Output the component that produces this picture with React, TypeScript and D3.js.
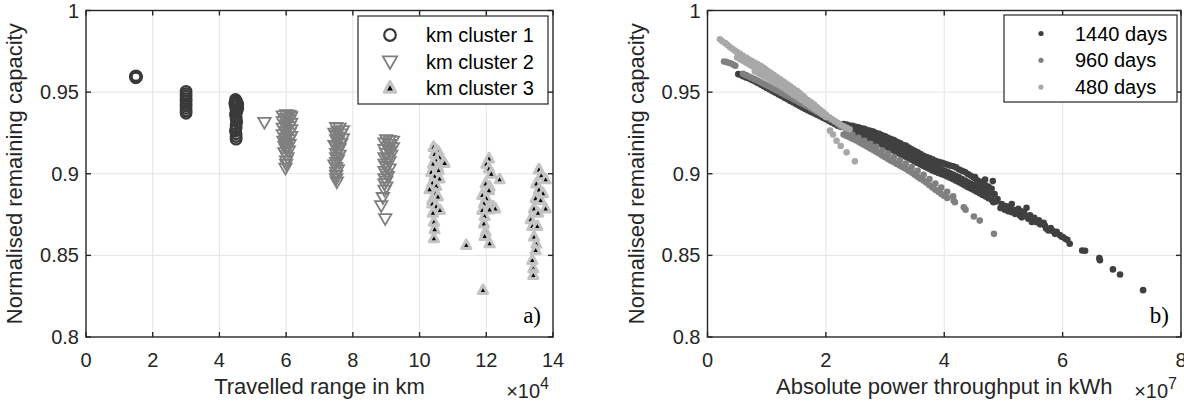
import React from "react";
import * as d3 from "d3";

// a) travelled range (x in 1e4 km) vs normalised remaining capacity
const kmCluster1: [number, number][] = [
  [1.5, 0.96], [1.48, 0.9597], [1.52, 0.9594], [1.5, 0.9591], [1.49, 0.9588],
  [3.0, 0.9505], [3.0, 0.949], [3.0, 0.9475], [3.0, 0.946], [3.0, 0.9445], [3.0, 0.943],
  [3.0, 0.9415], [3.0, 0.94], [3.0, 0.9385], [3.0, 0.937],
  [4.48, 0.9455], [4.5, 0.9448], [4.52, 0.944], [4.46, 0.9432], [4.55, 0.9425], [4.5, 0.9418],
  [4.48, 0.941], [4.55, 0.94], [4.5, 0.939], [4.52, 0.9378], [4.48, 0.9365], [4.5, 0.935],
  [4.5, 0.9335], [4.52, 0.9318], [4.5, 0.93], [4.5, 0.928], [4.48, 0.9262], [4.5, 0.9245],
  [4.5, 0.9228], [4.5, 0.9212],
];

const kmCluster2: [number, number][] = [
  [5.35, 0.9315],
  [6.0, 0.9362], [6.1, 0.936], [5.9, 0.9355], [6.15, 0.935], [6.0, 0.934], [6.1, 0.933],
  [5.9, 0.932], [6.15, 0.931], [6.0, 0.93], [6.1, 0.929], [5.9, 0.928], [6.15, 0.927],
  [6.0, 0.926], [6.1, 0.925], [5.9, 0.924], [6.15, 0.923], [6.0, 0.922], [6.1, 0.921],
  [5.92, 0.92], [6.0, 0.919], [6.1, 0.918], [5.95, 0.917], [6.05, 0.916], [6.0, 0.915],
  [6.08, 0.914], [5.95, 0.913], [6.0, 0.9115], [6.04, 0.91], [6.0, 0.908], [6.0, 0.906],
  [5.98, 0.9035],
  [7.5, 0.9285], [7.6, 0.928], [7.7, 0.9265], [7.55, 0.926], [7.45, 0.925], [7.65, 0.9245],
  [7.5, 0.9235], [7.6, 0.9225], [7.7, 0.9215], [7.5, 0.921], [7.55, 0.9195], [7.65, 0.9185],
  [7.45, 0.9175], [7.5, 0.9165], [7.6, 0.9155], [7.55, 0.914], [7.5, 0.9125], [7.6, 0.9115],
  [7.5, 0.91], [7.55, 0.9085], [7.5, 0.907], [7.45, 0.9055], [7.5, 0.904], [7.55, 0.9025],
  [7.5, 0.901], [7.5, 0.899], [7.5, 0.897], [7.52, 0.895],
  [9.0, 0.921], [9.1, 0.9205], [9.2, 0.92], [8.95, 0.919], [9.1, 0.918], [9.05, 0.9165],
  [9.2, 0.916], [8.95, 0.915], [9.1, 0.914], [9.0, 0.9125], [9.15, 0.9115], [8.95, 0.91],
  [9.05, 0.909], [9.1, 0.9075], [8.95, 0.906], [9.0, 0.9045], [9.1, 0.903], [8.95, 0.9015],
  [9.0, 0.9], [9.05, 0.8985], [8.95, 0.897], [9.0, 0.8955], [8.95, 0.894], [9.0, 0.892],
  [8.95, 0.89], [8.9, 0.8855], [8.85, 0.8805], [8.97, 0.8726],
];

const kmCluster3: [number, number][] = [
  [10.42, 0.9164], [10.5, 0.9145], [10.57, 0.9133], [10.45, 0.912], [10.6, 0.91], [10.75, 0.9066],
  [10.5, 0.908], [10.4, 0.906], [10.55, 0.904], [10.57, 0.9021], [10.35, 0.901], [10.45, 0.8985],
  [10.6, 0.897], [10.38, 0.8944], [10.5, 0.8925], [10.3, 0.8905], [10.48, 0.8879], [10.55, 0.886],
  [10.38, 0.884], [10.38, 0.8817], [10.5, 0.88], [10.61, 0.8777], [10.4, 0.876], [10.43, 0.8705],
  [10.45, 0.866], [10.43, 0.8604],
  [11.4, 0.8563],
  [12.08, 0.9093], [12.0, 0.906], [12.08, 0.9032], [12.15, 0.9], [12.4, 0.8965], [11.98, 0.894],
  [12.1, 0.892], [12.08, 0.8899], [11.88, 0.8869], [12.0, 0.885], [11.93, 0.8818], [12.2, 0.88],
  [12.27, 0.8787], [12.1, 0.8781], [11.88, 0.8777], [11.95, 0.874], [11.93, 0.8695], [11.98, 0.8644],
  [11.95, 0.8618], [12.1, 0.8573], [11.9, 0.8287],
  [13.58, 0.9026], [13.65, 0.899], [13.78, 0.8965], [13.5, 0.894], [13.58, 0.8903], [13.7, 0.888],
  [13.48, 0.885], [13.63, 0.8838], [13.78, 0.8787], [13.43, 0.8787], [13.55, 0.876], [13.33, 0.872],
  [13.38, 0.8679], [13.53, 0.8679], [13.43, 0.8613], [13.5, 0.857], [13.48, 0.8532], [13.38, 0.8471],
  [13.41, 0.842], [13.41, 0.8379],
];

// b) absolute power throughput (x in 1e7 kWh) vs normalised remaining capacity
const days1440: [number, number][] = [
  // thin start along the lower edge
  [0.52, 0.961], [0.56, 0.9606], [0.6, 0.9598], [0.65, 0.959], [0.7, 0.9584], [0.75, 0.9575],
  [0.8, 0.9566], [0.85, 0.9556], [0.9, 0.9546], [0.95, 0.9536], [1.0, 0.9526], [1.05, 0.9516],
  [1.1, 0.9506], [1.15, 0.9496], [1.2, 0.9486], [1.25, 0.9476], [1.3, 0.9466], [1.35, 0.9456],
  [1.4, 0.9446], [1.45, 0.9436], [1.5, 0.9426], [1.55, 0.9416], [1.6, 0.9406], [1.65, 0.9397],
  [1.7, 0.9388], [1.75, 0.9379], [1.8, 0.937], [1.85, 0.9361], [1.9, 0.9352], [1.95, 0.9343],
  [2.0, 0.9334], [2.05, 0.9325], [2.1, 0.9314], [2.15, 0.9304], [2.2, 0.9294], [2.25, 0.9286],
  // upper row
  [2.3, 0.9304], [2.35, 0.9302], [2.4, 0.9296], [2.45, 0.9294], [2.5, 0.9288], [2.55, 0.9285],
  [2.6, 0.9279], [2.65, 0.9275], [2.7, 0.9268], [2.75, 0.9263], [2.8, 0.9258], [2.85, 0.925],
  [2.9, 0.9245], [2.95, 0.9236], [3.0, 0.923], [3.05, 0.922], [3.1, 0.9213], [3.15, 0.9206],
  [3.2, 0.9196], [3.25, 0.9188], [3.3, 0.9178], [3.35, 0.9172], [3.4, 0.916], [3.45, 0.915],
  [3.5, 0.914], [3.55, 0.9132], [3.6, 0.9121], [3.65, 0.911], [3.7, 0.9103], [3.75, 0.9096],
  [3.8, 0.9088], [3.85, 0.908], [3.9, 0.9073], [3.95, 0.9068], [4.0, 0.9062], [4.05, 0.9056],
  [4.1, 0.905], [4.15, 0.9046], [4.2, 0.9039], [4.25, 0.9026], [4.3, 0.9018], [4.35, 0.901],
  [4.4, 0.8998], [4.45, 0.8988], [4.5, 0.8976], [4.55, 0.8962], [4.6, 0.8952], [4.65, 0.8942],
  [4.7, 0.893], [4.75, 0.892], [4.8, 0.8908],
  [4.52, 0.898], [4.69, 0.8965], [4.82, 0.8955],
  // middle row
  [2.35, 0.9275], [2.4, 0.9271], [2.45, 0.9267], [2.5, 0.9263], [2.55, 0.9258], [2.6, 0.9253],
  [2.65, 0.9248], [2.7, 0.9242], [2.75, 0.9236], [2.8, 0.9229], [2.85, 0.9222], [2.9, 0.9215],
  [2.95, 0.9207], [3.0, 0.9198], [3.05, 0.919], [3.1, 0.9181], [3.15, 0.9172], [3.2, 0.9163],
  [3.25, 0.9154], [3.3, 0.9144], [3.35, 0.9135], [3.4, 0.9125], [3.45, 0.9115], [3.5, 0.9105],
  [3.55, 0.9095], [3.6, 0.9086], [3.65, 0.9077], [3.7, 0.9068], [3.75, 0.906], [3.8, 0.9051],
  [3.85, 0.9043], [3.9, 0.9036], [3.95, 0.9028], [4.0, 0.902], [4.05, 0.9012], [4.1, 0.9003],
  [4.15, 0.8995], [4.2, 0.8986], [4.25, 0.8978], [4.3, 0.8968], [4.35, 0.8958], [4.4, 0.8948],
  [4.45, 0.8938], [4.5, 0.893], [4.55, 0.8922], [4.6, 0.8913], [4.65, 0.8905], [4.7, 0.8898],
  [4.75, 0.889], [4.8, 0.8882], [4.85, 0.8875],
  // lower row
  [2.45, 0.924], [2.5, 0.9235], [2.55, 0.923], [2.6, 0.9225], [2.65, 0.9219], [2.7, 0.9213],
  [2.75, 0.9207], [2.8, 0.92], [2.85, 0.9193], [2.9, 0.9185], [2.95, 0.9177], [3.0, 0.9168],
  [3.05, 0.9159], [3.1, 0.915], [3.15, 0.9141], [3.2, 0.9132], [3.25, 0.9122], [3.3, 0.9113],
  [3.35, 0.9104], [3.4, 0.9094], [3.45, 0.9085], [3.5, 0.9075], [3.55, 0.9066], [3.6, 0.9056],
  [3.65, 0.9047], [3.7, 0.9038], [3.75, 0.9029], [3.8, 0.902], [3.85, 0.9012], [3.9, 0.9005],
  [3.95, 0.8998], [4.0, 0.8992], [4.05, 0.8983], [4.1, 0.8975], [4.15, 0.8966], [4.2, 0.8957],
  [4.25, 0.8948], [4.3, 0.8938], [4.35, 0.8928], [4.4, 0.8918], [4.45, 0.8909], [4.5, 0.89],
  [4.55, 0.889], [4.6, 0.888], [4.65, 0.887], [4.7, 0.886], [4.75, 0.885], [4.8, 0.884],
  // tail
  [4.83, 0.8825], [4.88, 0.883], [4.9, 0.8845], [4.95, 0.879], [4.97, 0.8815], [5.0, 0.8805],
  [5.02, 0.878], [5.05, 0.88], [5.08, 0.877], [5.1, 0.879], [5.14, 0.8815], [5.14, 0.8764],
  [5.18, 0.8778], [5.2, 0.8754], [5.22, 0.8765], [5.25, 0.8785], [5.28, 0.8744], [5.3, 0.877],
  [5.31, 0.8733], [5.35, 0.876], [5.38, 0.874], [5.39, 0.8791], [5.42, 0.8724], [5.45, 0.8745],
  [5.48, 0.8705], [5.5, 0.872], [5.52, 0.873], [5.56, 0.8703], [5.6, 0.8715], [5.62, 0.869],
  [5.65, 0.8695], [5.68, 0.87], [5.7, 0.8683], [5.72, 0.8665], [5.76, 0.8652], [5.8, 0.8668],
  [5.83, 0.865], [5.87, 0.8632], [5.9, 0.8645], [5.95, 0.8625], [5.98, 0.8615], [6.01, 0.8611],
  [6.05, 0.86], [6.08, 0.8595], [6.12, 0.8571], [6.33, 0.853], [6.38, 0.8528], [6.62, 0.8483],
  [6.63, 0.847], [6.85, 0.8414], [6.97, 0.8383], [7.36, 0.8287],
];

const days960: [number, number][] = [
  [0.28, 0.9688], [0.32, 0.9684], [0.36, 0.968], [0.4, 0.9675], [0.44, 0.9668], [0.47, 0.9662],
  [0.6, 0.9612], [0.65, 0.9604], [0.7, 0.9595], [0.75, 0.9587], [0.8, 0.9578], [0.85, 0.9569],
  [0.9, 0.956], [0.95, 0.9551], [1.0, 0.9542], [1.05, 0.9533], [1.1, 0.9524], [1.15, 0.9514],
  [1.2, 0.9505], [1.25, 0.9495], [1.3, 0.9486], [1.35, 0.9476], [1.4, 0.9467], [1.45, 0.9457],
  [1.5, 0.9448], [1.55, 0.9438], [1.6, 0.9429], [1.65, 0.9419], [1.7, 0.941], [1.75, 0.94],
  [1.8, 0.939], [1.85, 0.938], [1.9, 0.937], [1.95, 0.936], [2.0, 0.935], [2.05, 0.934],
  [2.1, 0.933], [2.15, 0.9318], [2.2, 0.9305], [2.25, 0.929],
  // middle row
  [2.35, 0.9255], [2.45, 0.9238], [2.55, 0.922], [2.65, 0.9202], [2.75, 0.9183], [2.85, 0.9165],
  [2.95, 0.9144], [3.05, 0.9123], [3.15, 0.9102], [3.25, 0.9082], [3.35, 0.9062], [3.45, 0.9041],
  [3.55, 0.9018], [3.65, 0.8994], [3.75, 0.8968], [3.85, 0.894], [3.95, 0.8915], [4.05, 0.889],
  [4.15, 0.8862],
  // lower row
  [2.3, 0.924], [2.35, 0.9232], [2.4, 0.9224], [2.45, 0.9215], [2.5, 0.9206], [2.55, 0.9196],
  [2.6, 0.9186], [2.65, 0.9176], [2.7, 0.9166], [2.75, 0.9155], [2.8, 0.9145], [2.85, 0.9134],
  [2.9, 0.9124], [2.95, 0.9112], [3.0, 0.9101], [3.05, 0.909], [3.1, 0.908], [3.15, 0.907],
  [3.2, 0.906], [3.25, 0.905], [3.3, 0.904], [3.35, 0.903], [3.4, 0.9019], [3.45, 0.9007],
  [3.5, 0.8994], [3.55, 0.8981], [3.6, 0.897], [3.65, 0.8958], [3.7, 0.8945], [3.75, 0.893],
  [3.8, 0.8916], [3.85, 0.8902], [3.9, 0.889], [3.95, 0.8876], [4.0, 0.8864], [4.05, 0.8852],
  // tail
  [4.16, 0.8835], [4.18, 0.8825], [4.33, 0.8795], [4.36, 0.878], [4.5, 0.8738], [4.6, 0.8713],
  [4.84, 0.8632],
];

const days480: [number, number][] = [
  [0.21, 0.9824], [0.25, 0.9812], [0.3, 0.98], [0.34, 0.9788], [0.38, 0.9775], [0.42, 0.9765],
  [0.46, 0.9755], [0.5, 0.9745], [0.55, 0.9735], [0.6, 0.9722], [0.66, 0.9711], [0.7, 0.97],
  [0.75, 0.969], [0.8, 0.968], [0.85, 0.967], [0.9, 0.966], [0.94, 0.965], [0.98, 0.964],
  [1.03, 0.9628], [1.08, 0.9616], [1.12, 0.9605], [1.17, 0.9592], [1.22, 0.958], [1.26, 0.957],
  [1.3, 0.956], [1.35, 0.9548], [1.4, 0.9535], [1.45, 0.9522], [1.51, 0.9508], [1.55, 0.9496],
  [1.58, 0.9485], [1.62, 0.9474], [1.65, 0.9462], [1.7, 0.945], [1.75, 0.9438], [1.8, 0.9424],
  [1.84, 0.941], [1.88, 0.9396], [1.93, 0.9382], [1.97, 0.9366], [2.01, 0.935],
  [0.5, 0.9712], [0.55, 0.9702], [0.6, 0.9692], [0.65, 0.9682], [0.7, 0.9671], [0.75, 0.966],
  [0.8, 0.965], [0.85, 0.9639], [0.9, 0.9628], [0.95, 0.9617], [1.0, 0.9606], [1.05, 0.9595],
  [1.1, 0.9584], [1.15, 0.9573], [1.2, 0.9562], [1.25, 0.9551], [1.3, 0.954], [1.35, 0.9528],
  [1.4, 0.9516], [1.45, 0.9503], [1.5, 0.949], [1.55, 0.9478], [1.6, 0.9465], [1.65, 0.9452],
  [1.7, 0.944], [1.75, 0.9428], [1.8, 0.9415], [1.85, 0.9402], [1.9, 0.939], [1.95, 0.9376],
  [2.0, 0.9362], [2.05, 0.9348], [2.1, 0.9335], [2.15, 0.9323], [2.2, 0.9312], [2.25, 0.93],
  [2.3, 0.929], [2.35, 0.9281], [2.4, 0.9272],
  [0.8, 0.9628], [0.85, 0.9618], [0.9, 0.9608], [0.95, 0.9598], [1.0, 0.9588], [1.05, 0.9577],
  [1.1, 0.9566], [1.15, 0.9556], [1.2, 0.9545], [1.25, 0.9533], [1.3, 0.9522], [1.35, 0.951],
  [1.4, 0.9498], [1.45, 0.9486], [1.5, 0.9475], [1.55, 0.9462], [1.6, 0.945], [1.65, 0.9437],
  [1.7, 0.9425], [1.75, 0.9412], [1.8, 0.94], [1.85, 0.9387], [1.9, 0.9375], [1.95, 0.9361],
  [2.0, 0.9348],
  [2.07, 0.9264], [2.12, 0.924], [2.18, 0.9202], [2.25, 0.917], [2.35, 0.9131], [2.49, 0.9076],
];

const xTicksA = [0, 2, 4, 6, 8, 10, 12, 14];
const xTicksB = [0, 2, 4, 6, 8];
const yTicks = [0.8, 0.85, 0.9, 0.95, 1];
const legendA = ["km cluster 1", "km cluster 2", "km cluster 3"];
const legendB = ["1440 days", "960 days", "480 days"];

const W = 1184;
const H = 403;
const TOP = 10.5;
const BOTTOM = 337;
const sans = "'Liberation Sans', Arial, Helvetica, sans-serif";
const ink = "#262626";

const yScale = d3.scaleLinear().domain([0.8, 1]).range([BOTTOM, TOP]);
const xA = d3.scaleLinear().domain([0, 14]).range([86, 553]);
const xB = d3.scaleLinear().domain([0, 8]).range([707.5, 1181]);

const triDown = "M-6.2,-4.4L6.2,-4.4L0,6.4Z";
const triUp = "M0,-5.2L4.6,3.4L-4.6,3.4Z";

function Axes({ x, xTicks, xLabel, exp, tag, children }: any) {
  const y = yScale;
  const [x0, x1] = x.range();
  const tl = 5;
  return (
    <g>
      {xTicks.slice(1, -1).map((t: number) => (
        <line key={"gx" + t} x1={x(t)} x2={x(t)} y1={BOTTOM} y2={TOP} stroke="#e4e4e4" strokeWidth={1} />
      ))}
      {yTicks.slice(1, -1).map((t) => (
        <line key={"gy" + t} x1={x0} x2={x1} y1={y(t)} y2={y(t)} stroke="#e4e4e4" strokeWidth={1} />
      ))}
      {children}
      <rect x={x0} y={TOP} width={x1 - x0} height={BOTTOM - TOP} fill="none" stroke={ink} strokeWidth={1.4} />
      {xTicks.map((t: number) => (
        <g key={"tx" + t}>
          <line x1={x(t)} x2={x(t)} y1={BOTTOM} y2={BOTTOM - tl} stroke={ink} strokeWidth={1.4} />
          <line x1={x(t)} x2={x(t)} y1={TOP} y2={TOP + tl} stroke={ink} strokeWidth={1.4} />
          <text x={x(t)} y={BOTTOM + 29.5} textAnchor="middle" fontSize={20} fill={ink} fontFamily={sans}>
            {t}
          </text>
        </g>
      ))}
      {yTicks.map((t) => (
        <g key={"ty" + t}>
          <line x1={x0} x2={x0 + tl} y1={y(t)} y2={y(t)} stroke={ink} strokeWidth={1.4} />
          <line x1={x1} x2={x1 - tl} y1={y(t)} y2={y(t)} stroke={ink} strokeWidth={1.4} />
          <text x={x0 - 7} y={y(t)} dy="0.35em" textAnchor="end" fontSize={20} fill={ink} fontFamily={sans}>
            {String(t)}
          </text>
        </g>
      ))}
      <text x={(x0 + x1) / 2} y={394} textAnchor="middle" fontSize={22} fill={ink} fontFamily={sans}>
        {xLabel}
      </text>
      <text
        transform={`translate(${x0 - 64},${(TOP + BOTTOM) / 2}) rotate(-90)`}
        textAnchor="middle"
        fontSize={22}
        fill={ink}
        fontFamily={sans}
      >
        Normalised remaining capacity
      </text>
      <text x={x1 - 4} y={398} textAnchor="end" fill={ink} fontFamily={sans} fontSize={20}>
        ×10
        <tspan dy={-9} fontSize={16}>
          {exp}
        </tspan>
      </text>
      <text x={x1 - 12} y={323} textAnchor="end" fontSize={23} fill="#000" fontFamily="'Liberation Serif', 'Times New Roman', serif">
        {tag}
      </text>
    </g>
  );
}

export default function App() {
  const y = yScale;
  const dotColors = ["#404040", "#808080", "#a8a8a8"];
  const seriesB = [days1440, days960, days480];
  return (
    <svg width={W} height={H} style={{ position: "absolute", left: 0, top: 0, background: "#fff" }}>
      <rect width={W} height={H} fill="#fff" />
      <Axes x={xA} xTicks={xTicksA} xLabel="Travelled range in km" exp="4" tag="a)">
        {kmCluster1.map((d, i) => (
          <circle key={"c1" + i} cx={xA(d[0])} cy={y(d[1])} r={5.2} fill="none" stroke="#3a3a3a" strokeWidth={2.4} />
        ))}
        {kmCluster2.map((d, i) => (
          <path key={"c2" + i} d={triDown} transform={`translate(${xA(d[0])},${y(d[1])})`} fill="none" stroke="#7f7f7f" strokeWidth={1.8} />
        ))}
        {kmCluster3.map((d, i) => (
          <path
            key={"c3" + i}
            d={triUp}
            transform={`translate(${xA(d[0])},${y(d[1])})`}
            fill="#000"
            stroke="#c4c4c4"
            strokeWidth={3}
            strokeLinejoin="round"
          />
        ))}
      </Axes>
      <Axes x={xB} xTicks={xTicksB} xLabel="Absolute power throughput in kWh" exp="7" tag="b)">
        {seriesB.map((s, k) =>
          s.map((d, i) => <circle key={k + "-" + i} cx={xB(d[0])} cy={y(d[1])} r={3.3} fill={dotColors[k]} />)
        )}
      </Axes>

      {/* legend a */}
      <g>
        <rect x={358} y={16} width={190} height={88} fill="#fff" stroke={ink} strokeWidth={1.2} />
        {legendA.map((name, i) => {
          const cy = 35 + i * 26.5;
          return (
            <g key={name}>
              {i === 0 && <circle cx={390} cy={cy} r={5.8} fill="none" stroke="#3a3a3a" strokeWidth={2.2} />}
              {i === 1 && (
                <path d={triDown} transform={`translate(390,${cy}) scale(1.15)`} fill="none" stroke="#7f7f7f" strokeWidth={1.6} />
              )}
              {i === 2 && (
                <path
                  d={triUp}
                  transform={`translate(390,${cy}) scale(1.2)`}
                  fill="#000"
                  stroke="#c4c4c4"
                  strokeWidth={2.8}
                  strokeLinejoin="round"
                />
              )}
              <text x={426} y={cy} dy="0.35em" fontSize={20} fill="#000" fontFamily={sans}>
                {name}
              </text>
            </g>
          );
        })}
      </g>

      {/* legend b */}
      <g>
        <rect x={1004} y={15} width={173} height={87} fill="#fff" stroke={ink} strokeWidth={1.2} />
        {legendB.map((name, i) => {
          const cy = 33.5 + i * 26.8;
          return (
            <g key={name}>
              <circle cx={1041} cy={cy} r={2.6} fill={dotColors[i]} />
              <text x={1075} y={cy} dy="0.35em" fontSize={20} fill="#000" fontFamily={sans}>
                {name}
              </text>
            </g>
          );
        })}
      </g>
    </svg>
  );
}
